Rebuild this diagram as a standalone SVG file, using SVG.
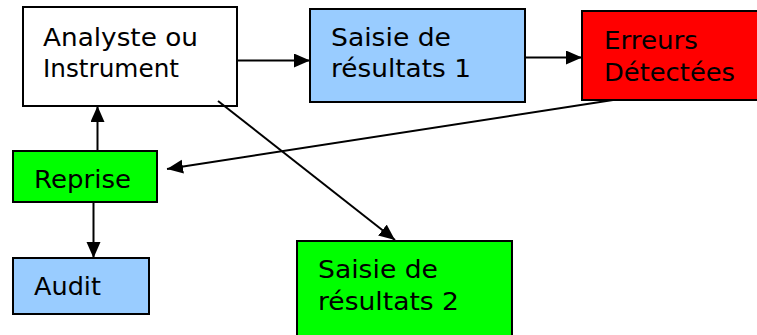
<svg xmlns="http://www.w3.org/2000/svg" width="757" height="335" viewBox="0 0 757 335">
  <style>
    .box { stroke: #000; stroke-width: 2; }
    .white { fill: #ffffff; }
    .blue { fill: #99ccff; }
    .red { fill: #ff0000; }
    .green { fill: #00ff00; }
    .lbl { font-family: "DejaVu Sans", Verdana, sans-serif; font-size: 25px; fill: #000; }
    .edge { stroke: #000; stroke-width: 2; fill: none; marker-end: url(#arrow); }
  </style>
  <defs>
    <marker id="arrow" markerWidth="18" markerHeight="15" refX="16" refY="7" orient="auto" markerUnits="userSpaceOnUse">
      <path d="M0,0 L16,7 L0,14 Z" fill="#000"/>
    </marker>
  </defs>
  <rect width="757" height="335" fill="#ffffff"/>

  <g id="analyste">
    <rect class="box white" x="23" y="7" width="214" height="99"/>
    <text class="lbl" x="43" y="46" textLength="155" lengthAdjust="spacingAndGlyphs">Analyste ou</text>
    <text class="lbl" x="43" y="77" textLength="136" lengthAdjust="spacingAndGlyphs">Instrument</text>
  </g>

  <g id="saisie1">
    <rect class="box blue" x="310" y="9" width="215" height="93"/>
    <text class="lbl" x="331" y="46" textLength="120" lengthAdjust="spacingAndGlyphs">Saisie de</text>
    <text class="lbl" x="331" y="77" textLength="140" lengthAdjust="spacingAndGlyphs">résultats 1</text>
  </g>

  <g id="erreurs">
    <rect class="box red" x="582" y="11" width="185" height="89"/>
    <text class="lbl" x="604" y="49" textLength="94" lengthAdjust="spacingAndGlyphs">Erreurs</text>
    <text class="lbl" x="604" y="81" textLength="131" lengthAdjust="spacingAndGlyphs">Détectées</text>
  </g>

  <g id="reprise">
    <rect class="box green" x="13" y="151" width="144" height="51"/>
    <text class="lbl" x="34" y="188" textLength="97" lengthAdjust="spacingAndGlyphs">Reprise</text>
  </g>

  <g id="audit">
    <rect class="box blue" x="13" y="258" width="136" height="56"/>
    <text class="lbl" x="34" y="295" textLength="67" lengthAdjust="spacingAndGlyphs">Audit</text>
  </g>

  <g id="saisie2">
    <rect class="box green" x="297" y="241" width="215" height="110"/>
    <text class="lbl" x="318" y="278" textLength="120" lengthAdjust="spacingAndGlyphs">Saisie de</text>
    <text class="lbl" x="318" y="310" textLength="141" lengthAdjust="spacingAndGlyphs">résultats 2</text>
  </g>

  <g id="connectors">
    <line class="edge" x1="237" y1="60.5" x2="310" y2="60.5"/>
    <line class="edge" x1="525" y1="57.5" x2="582" y2="57.5"/>
    <line class="edge" x1="613" y1="100" x2="167" y2="169"/>
    <line class="edge" x1="218" y1="101" x2="395" y2="240"/>
    <line class="edge" x1="97.5" y1="151" x2="97.5" y2="106"/>
    <line class="edge" x1="93.5" y1="202" x2="93.5" y2="258"/>
  </g>
</svg>
